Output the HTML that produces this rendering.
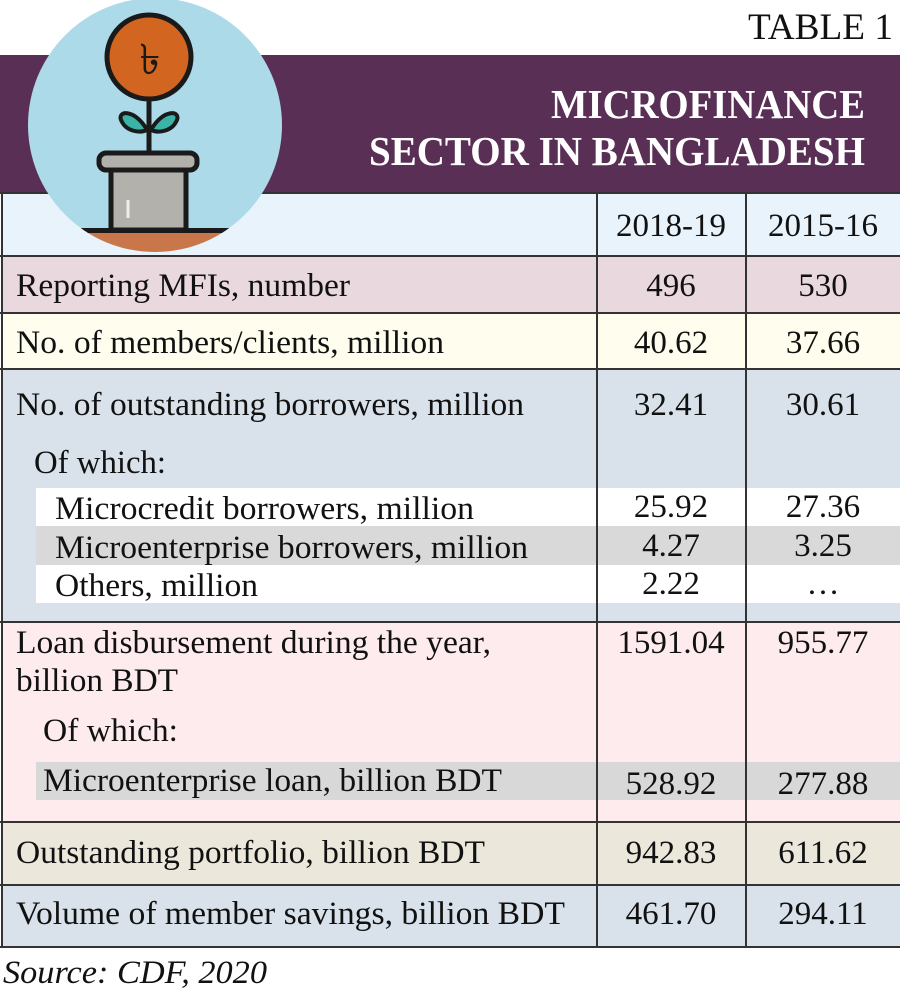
<!DOCTYPE html>
<html><head><meta charset="utf-8"><style>
html,body{margin:0;padding:0;background:#fff;}
svg{display:block;}
text{font-family:"Liberation Serif",serif;fill:#111;}
</style></head><body>
<svg width="900" height="988" viewBox="0 0 900 988" xmlns="http://www.w3.org/2000/svg">
<rect width="900" height="988" fill="#fff"/>
<text x="893" y="39" font-size="37" text-anchor="end" textLength="145" lengthAdjust="spacingAndGlyphs">TABLE 1</text>
<rect x="0" y="55" width="900" height="138" fill="#5a2f56"/>
<text x="865" y="118" font-size="41" font-weight="bold" style="fill:#fff" text-anchor="end" textLength="314" lengthAdjust="spacingAndGlyphs">MICROFINANCE</text>
<text x="865" y="165" font-size="41" font-weight="bold" style="fill:#fff" text-anchor="end" textLength="496" lengthAdjust="spacingAndGlyphs">SECTOR IN BANGLADESH</text>

<rect x="2" y="193" width="898" height="63" fill="#e9f3fb"/>
<rect x="2" y="256" width="898" height="57" fill="#e9d8dd"/>
<rect x="2" y="313" width="898" height="56" fill="#fefdee"/>
<rect x="2" y="369" width="898" height="253" fill="#d9e2ea"/>
<rect x="36" y="488" width="864" height="38" fill="#fff"/>
<rect x="36" y="526" width="864" height="39" fill="#d9d9d9"/>
<rect x="36" y="565" width="864" height="38" fill="#fff"/>
<rect x="2" y="622" width="898" height="200" fill="#fdebee"/>
<rect x="36" y="762" width="864" height="38" fill="#d8d8d8"/>
<rect x="2" y="822" width="898" height="63" fill="#ebe7da"/>
<rect x="2" y="885" width="898" height="62" fill="#d9e2ea"/>
<g stroke="#333" stroke-width="2" fill="none">
<line x1="2" y1="193" x2="2" y2="947"/>
<line x1="597" y1="193" x2="597" y2="947"/>
<line x1="746" y1="193" x2="746" y2="947"/>
<line x1="0" y1="193" x2="900" y2="193"/>
<line x1="0" y1="256" x2="900" y2="256"/>
<line x1="0" y1="313" x2="900" y2="313"/>
<line x1="0" y1="369" x2="900" y2="369"/>
<line x1="0" y1="622" x2="900" y2="622"/>
<line x1="0" y1="822" x2="900" y2="822"/>
<line x1="0" y1="885" x2="900" y2="885"/>
<line x1="0" y1="947" x2="900" y2="947"/>
</g>

<defs><clipPath id="c"><circle cx="155" cy="125" r="127"/></clipPath></defs>
<circle cx="155" cy="125" r="127" fill="#acdae9"/>
<g clip-path="url(#c)">
<rect x="0" y="232" width="320" height="40" fill="#c9774a"/>
<rect x="0" y="228" width="320" height="5" fill="#1a1a1a"/>
</g>
<line x1="149" y1="95" x2="149" y2="158" stroke="#1a1a1a" stroke-width="5"/>
<path d="M147 130 C135 108 115 110 122 122 C126 130 138 134 147 130Z" fill="#3bb3a6" stroke="#1a1a1a" stroke-width="4"/>
<path d="M151 130 C163 108 183 110 176 122 C172 130 160 134 151 130Z" fill="#3bb3a6" stroke="#1a1a1a" stroke-width="4"/>
<circle cx="149" cy="57" r="42" fill="#d2651f" stroke="#1a1a1a" stroke-width="5"/>
<text x="150" y="74" font-size="42" text-anchor="middle" style="fill:#1a1a1a">৳</text>
<rect x="111" y="165" width="75" height="65" fill="#b3b1ac" stroke="#1a1a1a" stroke-width="5"/>
<rect x="99" y="153" width="98" height="17" rx="7" fill="#b3b1ac" stroke="#1a1a1a" stroke-width="5"/>
<line x1="128" y1="200" x2="128" y2="218" stroke="#eee" stroke-width="3"/>

<g font-size="33">
<text x="16" y="296" textLength="334" lengthAdjust="spacingAndGlyphs">Reporting MFIs, number</text>
<text x="16" y="353" textLength="428" lengthAdjust="spacingAndGlyphs">No. of members/clients, million</text>
<text x="16" y="415" textLength="508" lengthAdjust="spacingAndGlyphs">No. of outstanding borrowers, million</text>
<text x="34" y="473" textLength="132" lengthAdjust="spacingAndGlyphs">Of which:</text>
<text x="55" y="519" textLength="419" lengthAdjust="spacingAndGlyphs">Microcredit borrowers, million</text>
<text x="55" y="558" textLength="473" lengthAdjust="spacingAndGlyphs">Microenterprise borrowers, million</text>
<text x="55" y="596" textLength="203" lengthAdjust="spacingAndGlyphs">Others, million</text>
<text x="16" y="653" textLength="475" lengthAdjust="spacingAndGlyphs">Loan disbursement during the year,</text>
<text x="16" y="691" textLength="162" lengthAdjust="spacingAndGlyphs">billion BDT</text>
<text x="43" y="741" textLength="135" lengthAdjust="spacingAndGlyphs">Of which:</text>
<text x="43" y="791" textLength="459" lengthAdjust="spacingAndGlyphs">Microenterprise loan, billion BDT</text>
<text x="16" y="863" textLength="469" lengthAdjust="spacingAndGlyphs">Outstanding portfolio, billion BDT</text>
<text x="16" y="924" textLength="549" lengthAdjust="spacingAndGlyphs">Volume of member savings, billion BDT</text>
<text x="3" y="983" font-style="italic" textLength="264" lengthAdjust="spacingAndGlyphs">Source: CDF, 2020</text>
<g text-anchor="middle">
<text x="671" y="236">2018-19</text>
<text x="823" y="236">2015-16</text>
<text x="671" y="296">496</text>
<text x="823" y="296">530</text>
<text x="671" y="353">40.62</text>
<text x="823" y="353">37.66</text>
<text x="671" y="415">32.41</text>
<text x="823" y="415">30.61</text>
<text x="671" y="517">25.92</text>
<text x="823" y="517">27.36</text>
<text x="671" y="556">4.27</text>
<text x="823" y="556">3.25</text>
<text x="671" y="594">2.22</text>
<text x="823" y="594">…</text>
<text x="671" y="653">1591.04</text>
<text x="823" y="653">955.77</text>
<text x="671" y="794">528.92</text>
<text x="823" y="794">277.88</text>
<text x="671" y="863">942.83</text>
<text x="823" y="863">611.62</text>
<text x="671" y="924">461.70</text>
<text x="823" y="924">294.11</text>
</g>
</g>
</svg>
</body></html>
